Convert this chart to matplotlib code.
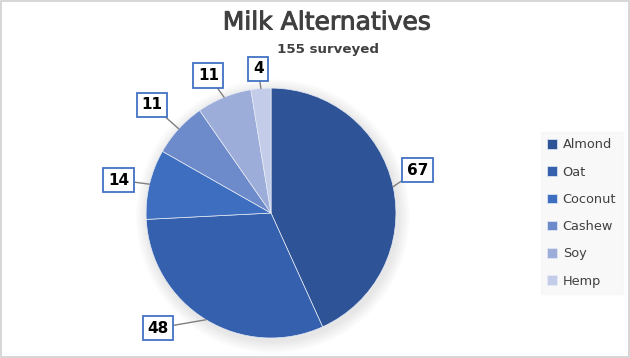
import numpy as np
import matplotlib.pyplot as plt
import matplotlib.patheffects as pe
from matplotlib.patches import Rectangle, Circle

categories = ["Almond", "Oat", "Coconut", "Cashew", "Soy", "Hemp"]
values = [67, 48, 14, 11, 11, 4]
colors = ["#2e5396", "#3460ae", "#3e6ec0", "#6d8acb", "#9dadda", "#c3cdea"]
label_angle = [16.3, -134.5, 167.8, 137.8, 114.5, 95.1]
label_radius = [1.22, 1.29, 1.25, 1.29, 1.21, 1.16]
title = "Milk Alternatives"
subtitle = "155 surveyed"

fig = plt.figure(figsize=(6.3, 3.58), dpi=100)
fig.patch.set_facecolor("white")
fig.add_artist(Rectangle((0.002, 0.003), 0.996, 0.994, transform=fig.transFigure,
                         fill=False, edgecolor="#d0d0d0", linewidth=1.2))

ax = fig.add_axes([0.2317, 0.0559, 0.397, 0.698])
# soft shadow
for k in range(8):
    ax.add_patch(Circle((0.015, -0.025), 1.0 + 0.012 * (8 - k), color="black",
                        alpha=0.012, lw=0, zorder=0, clip_on=False))
wedges, _ = ax.pie(values, colors=colors, startangle=90, counterclock=False,
                   radius=1.0, wedgeprops=dict(edgecolor="#e6ebf5", linewidth=0.5, zorder=1))
ax.set_xlim(-1, 1)
ax.set_ylim(-1, 1)
ax.set_aspect("equal")
ax.axis("off")

for w, v, a, r in zip(wedges, values, label_angle, label_radius):
    ang = np.deg2rad((w.theta1 + w.theta2) / 2)
    la = np.deg2rad(a)
    ax.annotate(str(v), xy=(np.cos(ang), np.sin(ang)), xytext=(np.cos(la) * r, np.sin(la) * r),
                ha="center", va="center", fontsize=11, fontweight="bold", color="black",
                bbox=dict(boxstyle="square,pad=0.3", fc="white", ec="#4472c4", lw=1.3),
                arrowprops=dict(arrowstyle="-", color="#7f7f7f", lw=1.0,
                                shrinkA=0, shrinkB=0),
                annotation_clip=False, zorder=5)

fig.text(0.519, 0.937, title, ha="center", va="center", fontsize=18,
         color="#404040",
         path_effects=[pe.withStroke(linewidth=0.7, foreground="#404040")])
fig.text(0.521, 0.863, subtitle, ha="center", va="center", fontsize=9.6,
         color="#404040", fontweight="bold")

leg = fig.legend(wedges, categories, loc="center left", bbox_to_anchor=(0.848, 0.405),
                 frameon=True, fontsize=9.3, handlelength=0.75, handleheight=0.75,
                 handletextpad=0.45, labelspacing=1.1, borderpad=0.5,
                 fancybox=False)
leg.get_frame().set_facecolor("#f7f7f7")
leg.get_frame().set_edgecolor("#f7f7f7")
for t in leg.get_texts():
    t.set_color("#404040")

fig.savefig("out.png", dpi=100)
